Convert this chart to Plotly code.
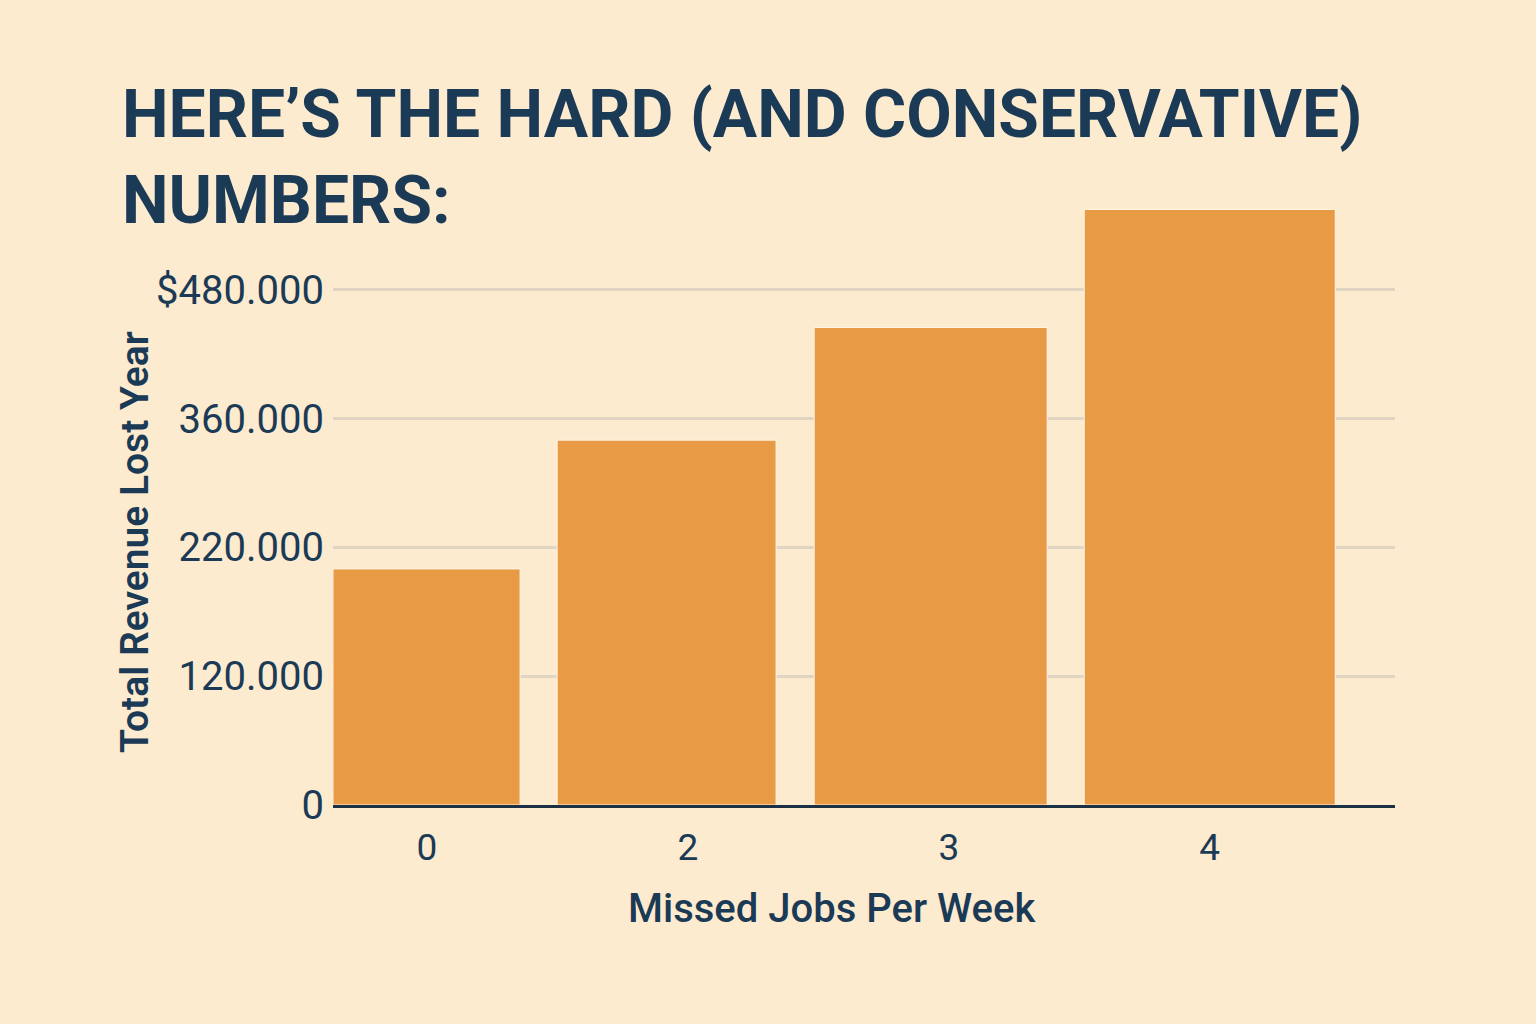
import plotly.graph_objects as go

categories = ["0", "2", "3", "4"]
revenue_lost = [220000, 340000, 445000, 555000]
tick_values = [0, 120000, 240000, 360000, 480000]
tick_labels = ["0", "120.000", "220.000", "360.000", "$480.000"]

# bar styling (category-relative widths and offsets)
bar_widths = [0.717, 0.839, 0.893, 0.962]
bar_offsets = [-0.36, -0.501, -0.516, -0.481]

NAVY = "#1B3A56"
BG = "#FCEBCF"

L, R, T, B = 333, 1395, 203, 805
PW, PH = R - L, B - T

def px(xp):
    return (xp - L) / PW

def py(yp):
    return (B - yp) / PH

fig = go.Figure(go.Bar(
    x=categories, y=revenue_lost, width=bar_widths, offset=bar_offsets,
    marker=dict(color="#E89A45", line=dict(color="#FFF6E6", width=1)),
))

fig.update_layout(
    width=1536, height=1024,
    paper_bgcolor=BG, plot_bgcolor=BG,
    margin=dict(l=L, r=1536 - R, t=T, b=1024 - B),
    showlegend=False,
    xaxis=dict(
        type="category", range=[-0.36, 3.71],
        showline=True, linecolor="#1B2F45", linewidth=3,
        showgrid=False, ticks="", ticklabelstandoff=8,
        tickfont=dict(family="Roboto", size=37, color=NAVY),
        fixedrange=True,
    ),
    yaxis=dict(
        range=[0, 561000], tickvals=tick_values, ticktext=tick_labels,
        showgrid=True, gridcolor="#E0D4C2", gridwidth=3,
        zeroline=False, showline=False, ticks="", ticklabelstandoff=8,
        tickfont=dict(family="Roboto", size=40, color=NAVY),
    ),
    annotations=[
        dict(text="HERE’S THE HARD (AND CONSERVATIVE)<br>NUMBERS:",
             xref="paper", yref="paper", x=px(120), y=py(74),
             xanchor="left", yanchor="top", align="left", showarrow=False,
             font=dict(family="Roboto", size=66, color=NAVY, weight="bold")),
        dict(text="Total Revenue Lost Year", textangle=-90,
             xref="paper", yref="paper", x=px(135), y=py(542),
             xanchor="center", yanchor="middle", showarrow=False,
             font=dict(family="Roboto", size=39, color=NAVY, weight=600)),
        dict(text="Missed Jobs Per Week",
             xref="paper", yref="paper", x=px(832), y=py(908),
             xanchor="center", yanchor="middle", showarrow=False,
             font=dict(family="Roboto", size=40, color=NAVY, weight=500)),
    ],
)

fig.write_html("out.html", config={"displayModeBar": False},
               post_script="document.body.style.margin='0px';")
